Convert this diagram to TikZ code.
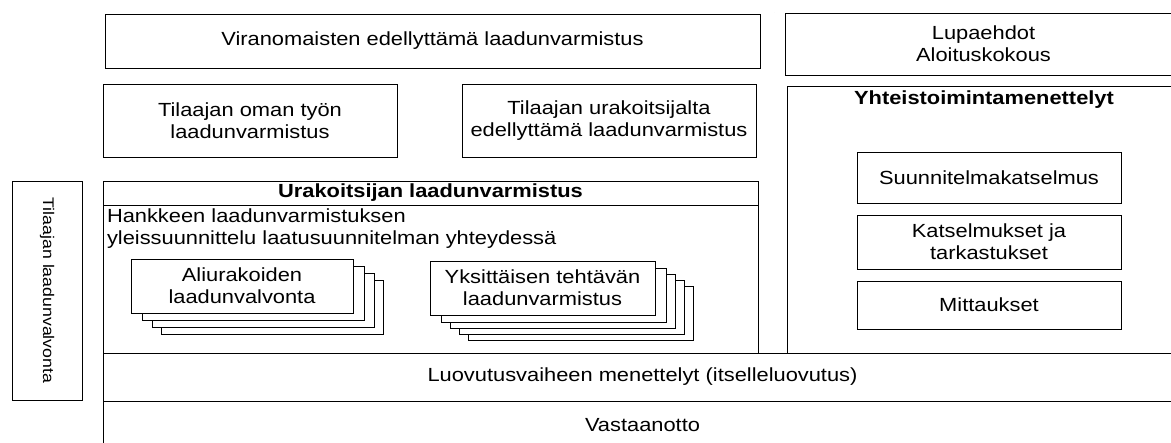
\documentclass[tikz,border=0pt]{standalone}
\usepackage{fontspec}
\setmainfont{Liberation Sans}[FakeStretch=1.15]
\newcommand\dfont{\fontsize{19}{22}\selectfont}
\newcommand\sfont{\fontsize{15.4}{18}\selectfont}
\newcommand\rectnode[6]{\node[box, minimum width=#4pt-#2pt, minimum height=#5pt-#3pt] (#1) at ({(#2+#4)/2},{(#3+#5)/2}) {#6};}
\begin{document}
\begin{tikzpicture}[x=1pt,y=-1pt,
  box/.style={draw, line width=0.9pt, inner sep=0pt, outer sep=0pt, align=center, font=\dfont, fill=white},
  txt/.style={inner sep=0pt, outer sep=0pt, font=\dfont, align=center}]
\useasboundingbox (0,0) rectangle (1171,443);
\clip (0,0) rectangle (1171,443);
% top row
\rectnode{vir}{105}{14}{760}{68}{Viranomaisten edellyttämä laadunvarmistus}
\rectnode{oma}{103}{84}{397}{157}{Tilaajan oman työn\\laadunvarmistus}
\rectnode{urk}{462}{84}{756}{157}{Tilaajan urakoitsijalta\\edellyttämä laadunvarmistus}
\rectnode{lupa}{785}{13}{1182}{75}{Lupaehdot\\Aloituskokous}
% right block
\rectnode{yht}{787}{86}{1182}{353}{}
\node[txt, font=\dfont\bfseries] (yhtt) at (984,100) {Yhteistoimintamenettelyt};
\rectnode{suu}{857}{152}{1121}{203}{Suunnitelmakatselmus}
\rectnode{kat}{857}{215}{1121}{269}{Katselmukset ja\\tarkastukset}
\rectnode{mit}{857}{281}{1121}{329}{Mittaukset}
% contractor block
\rectnode{urak}{103}{181}{758}{353}{}
\rectnode{urakt}{103}{181}{758}{205}{\bfseries Urakoitsijan laadunvarmistus}
\node[txt, align=left, anchor=west] (hank) at (107,229) {Hankkeen laadunvarmistuksen\\yleissuunnittelu laatusuunnitelman yhteydessä};
% stack 1
\foreach \k/\dx/\dy in {3/30/21, 2/21/14, 1/11/7}{
  \node[box, minimum width=222pt, minimum height=54pt] (ali\k) at (242+\dx,286+\dy) {};
}
\rectnode{ali}{131}{259}{353}{313}{Aliurakoiden\\laadunvalvonta}
% stack 2
\foreach \k/\dx/\dy in {4/38/25, 3/29/19, 2/20/13, 1/11/7}{
  \node[box, minimum width=225pt, minimum height=54pt] (yks\k) at (542.5+\dx,288+\dy) {};
}
\rectnode{yks}{430}{261}{655}{315}{Yksittäisen tehtävän\\laadunvarmistus}
% bottom bands
\rectnode{luo}{103}{353}{1182}{401}{Luovutusvaiheen menettelyt (itselleluovutus)}
\rectnode{vas}{103}{401}{1182}{450}{Vastaanotto}
% left vertical box
\node[box, font=\sfont, rotate=-90, minimum width=219pt, minimum height=70pt] (tlv) at (47,290.5) {Tilaajan laadunvalvonta};
% double separator
\coordinate (dtop) at (774,13);
\coordinate (dbot) at (774,353);
\draw[double, double distance=1.3pt, line width=0.7pt] (dtop) -- (dbot);
\end{tikzpicture}
\end{document}
